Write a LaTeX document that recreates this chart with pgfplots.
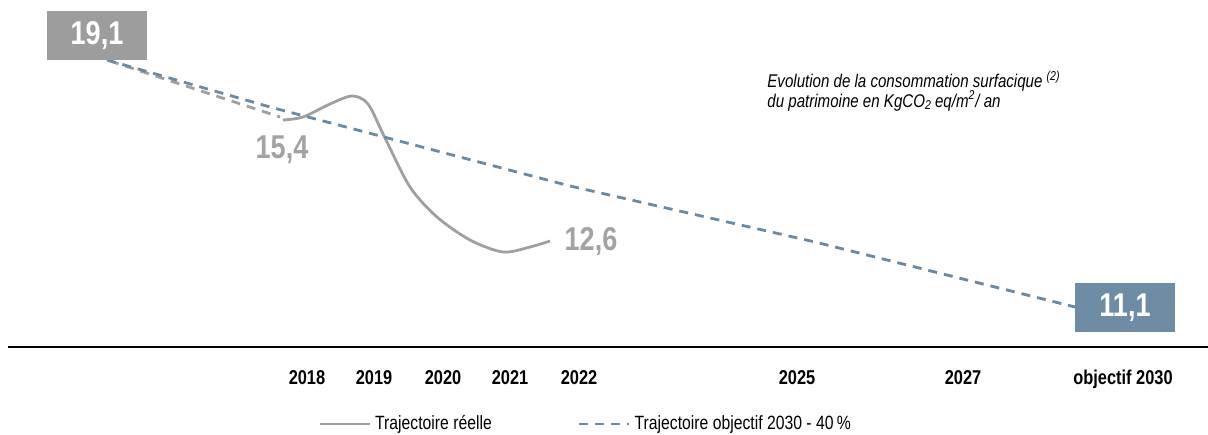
\documentclass[border=0pt]{standalone}
\usepackage{fontspec}
\setmainfont{Liberation Sans}[FakeStretch=0.82]
\usepackage{pgfplots}
\pgfplotsset{compat=1.18}
\definecolor{realgray}{HTML}{A0A0A0}
\definecolor{boxgray}{HTML}{9D9D9D}
\definecolor{objblue}{HTML}{6B8BA4}
\definecolor{boxblue}{HTML}{6E8CA3}
\definecolor{numgray}{HTML}{A3A3A3}
\begin{document}
\begin{tikzpicture}
\begin{axis}[
  scale only axis,
  width=600pt, height=173.5pt,
  xmin=8, xmax=1208, ymin=0, ymax=347,
  axis x line=bottom, axis y line=none,
  axis line style={-, line width=1.1pt, black},
  clip=false,
  xtick={307,374,443,510,579,797,963,1123},
  xticklabels={2018,2019,2020,2021,2022,2025,2027,objectif 2030},
  major tick length=0pt,
  xticklabel style={font=\bfseries\fontsize{10}{11}\selectfont, yshift=-8pt},
  /pgf/number format/assume math mode=true,
  legend style={at={(axis cs:312,-77)}, anchor=west, draw=none, fill=none,
    legend columns=2, font=\fontsize{9.6}{11}\selectfont,
    /tikz/every even column/.append style={column sep=41pt}},
  legend image code/.code={\draw[#1] (0pt,0pt) -- (25pt,0pt);},
]
% gray dashed baseline segment
\addplot[forget plot, realgray, line width=1.4pt, dash pattern=on 4.5pt off 3.5pt]
  coordinates {(110,286) (280,230)};
% actual trajectory
\addplot[realgray, line width=1.4pt, smooth, tension=0.5]
  coordinates {(283,227) (303,230) (330,243) (352,251) (368,243) (385,209) (410,160) (437,130) (470,107) (503,95) (530,100) (550,106)};
\addlegendentry{Trajectoire réelle}
% objective trajectory
\addplot[objblue, line width=1.4pt, dash pattern=on 4.5pt off 3.5pt]
  coordinates {(107,287) (270,240) (570,161) (815,105) (1075,40)};
\addlegendentry{Trajectoire objectif 2030 - 40\,\%}

\node[fill=boxgray, text=white, minimum width=50pt, minimum height=24.5pt, inner sep=0pt,
  font=\bfseries\fontsize{16.5}{16.5}\selectfont] at (axis cs:97,311.5) {19,1};
\node[fill=boxblue, text=white, minimum width=50pt, minimum height=24.5pt, inner sep=0pt,
  font=\bfseries\fontsize{16.5}{16.5}\selectfont] at (axis cs:1125,39.5) {11,1};
\node[text=numgray, inner sep=0pt, font=\bfseries\fontsize{16.5}{16.5}\selectfont] at (axis cs:282,197) {15,4};
\node[text=numgray, inner sep=0pt, font=\bfseries\fontsize{16.5}{16.5}\selectfont] at (axis cs:591,105) {12,6};
\node[anchor=base west, inner sep=0pt, font=\itshape\fontsize{9.2}{10}\selectfont] at (axis cs:767,259)
  {Evolution de la consommation surfacique \textsuperscript{(2)}};
\node[anchor=base west, inner sep=0pt, font=\itshape\fontsize{9.2}{10}\selectfont] at (axis cs:767,240)
  {du patrimoine en KgCO\textsubscript{2}\,eq/m\textsuperscript{2}/ an};
\coordinate (bl) at (axis cs:0,-87);
\coordinate (tr) at (axis cs:1208,347);
\end{axis}
\pgfresetboundingbox
\path[use as bounding box] (bl) rectangle (tr);
\end{tikzpicture}
\end{document}
